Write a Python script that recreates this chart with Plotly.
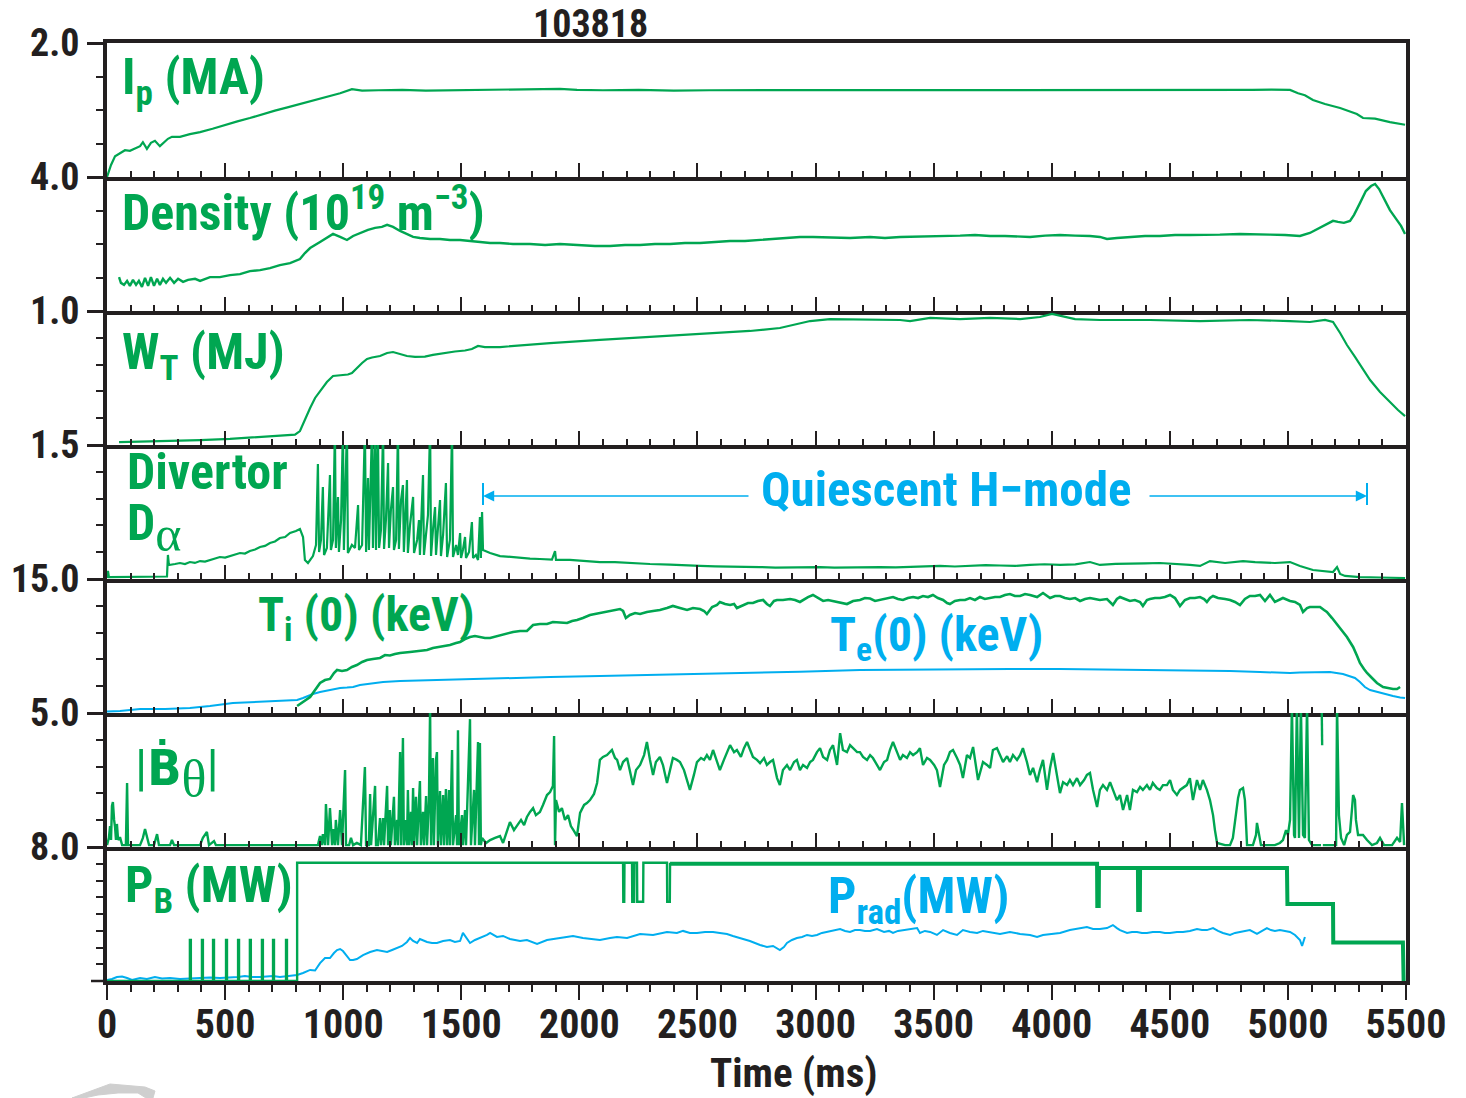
import plotly.graph_objects as go
from plotly.subplots import make_subplots

GREEN = "#00a651"
BLUE = "#00aeef"
INK = "#231f20"
FONT = "'Roboto Condensed', 'DejaVu Sans Condensed', sans-serif"

SHOT = "103818"
X_TITLE = "Time (ms)"

Y_MAX = [2.0, 4.0, 1.0, 1.5, 15.0, 5.0, 8.0]
Y_MINOR = [[0.5, 1.0, 1.5], [1, 2, 3], [0.2, 0.4, 0.6, 0.8], [0.3, 0.6, 0.9, 1.2],
           [3, 6, 9, 12], [1, 2, 3, 4], [1, 2, 3, 4, 5, 6, 7]]
Y_LABEL = ["2.0", "4.0", "1.0", "1.5", "15.0", "5.0", "8.0"]
X_TICKS = [0, 500, 1000, 1500, 2000, 2500, 3000, 3500, 4000, 4500, 5000, 5500]

IP = [(0, 0.00), (17, 0.18), (34, 0.31), (55, 0.36), (76, 0.40), (97, 0.39), (119, 0.43), (140, 0.46),
      (152, 0.52), (169, 0.42), (186, 0.51), (203, 0.54), (224, 0.46), (241, 0.52), (258, 0.57),
      (275, 0.60), (309, 0.60), (351, 0.64), (394, 0.67), (447, 0.72), (500, 0.78), (552, 0.83),
      (605, 0.88), (658, 0.94), (711, 0.99), (764, 1.04), (817, 1.09), (870, 1.14), (923, 1.19),
      (987, 1.25), (1037, 1.31), (1080, 1.29), (1150, 1.295), (1250, 1.30), (1350, 1.29), (1450, 1.295),
      (1550, 1.30), (1650, 1.295), (1750, 1.30), (1850, 1.305), (1918, 1.315), (1990, 1.30), (2100, 1.295),
      (2250, 1.30), (2400, 1.29), (2550, 1.295), (2700, 1.295), (2850, 1.29), (3000, 1.295), (3150, 1.29),
      (3300, 1.295), (3450, 1.29), (3600, 1.295), (3750, 1.29), (3900, 1.295), (4050, 1.29), (4200, 1.295),
      (4350, 1.29), (4500, 1.295), (4650, 1.30), (4750, 1.295), (4850, 1.30), (4930, 1.305), (5009, 1.30),
      (5043, 1.25), (5072, 1.22), (5106, 1.15), (5157, 1.09), (5221, 1.03), (5292, 0.94), (5318, 0.88),
      (5369, 0.87), (5432, 0.82), (5496, 0.78)]

NE = [(51, 1.01), (59, 0.84), (72, 0.78), (85, 0.90), (97, 0.75), (110, 0.93), (123, 0.78), (135, 0.90),
      (148, 0.72), (161, 0.99), (174, 0.75), (186, 1.01), (199, 0.75), (212, 0.96), (224, 0.78), (237, 0.96),
      (250, 0.84), (267, 0.99), (284, 0.84), (301, 0.96), (322, 0.87), (343, 0.93), (373, 0.96), (394, 0.90),
      (436, 1.01), (478, 1.01), (521, 1.07), (563, 1.10), (605, 1.19), (648, 1.22), (690, 1.28), (732, 1.37),
      (775, 1.43), (817, 1.55), (838, 1.73), (860, 1.88), (902, 2.06), (931, 2.18), (957, 2.30), (987, 2.21),
      (1016, 2.12), (1042, 2.24), (1071, 2.33), (1105, 2.42), (1135, 2.48), (1164, 2.51), (1186, 2.57),
      (1211, 2.51), (1241, 2.39), (1270, 2.30), (1296, 2.21), (1325, 2.18), (1368, 2.15), (1410, 2.15),
      (1452, 2.12), (1495, 2.12), (1537, 2.09), (1579, 2.06), (1622, 2.03), (1664, 2.03), (1719, 2.00),
      (1791, 2.00), (1855, 1.97), (1918, 2.00), (2003, 1.97), (2066, 1.94), (2130, 1.94), (2193, 1.97),
      (2257, 1.97), (2320, 2.00), (2384, 2.00), (2447, 2.03), (2511, 2.03), (2574, 2.06), (2638, 2.09),
      (2701, 2.09), (2765, 2.12), (2828, 2.15), (2892, 2.18), (2934, 2.21), (2989, 2.21), (3061, 2.19),
      (3146, 2.18), (3231, 2.21), (3294, 2.18), (3358, 2.21), (3442, 2.22), (3527, 2.24), (3612, 2.25),
      (3675, 2.27), (3739, 2.24), (3802, 2.24), (3866, 2.22), (3908, 2.21), (3972, 2.25), (4035, 2.27),
      (4099, 2.25), (4162, 2.24), (4204, 2.21), (4234, 2.15), (4276, 2.18), (4331, 2.21), (4395, 2.24),
      (4458, 2.24), (4522, 2.27), (4585, 2.27), (4649, 2.27), (4712, 2.28), (4797, 2.30), (4861, 2.30),
      (4924, 2.28), (4988, 2.27), (5051, 2.24), (5093, 2.33), (5127, 2.45), (5161, 2.57), (5191, 2.69),
      (5212, 2.66), (5237, 2.63), (5263, 2.69), (5280, 2.87), (5305, 3.22), (5330, 3.58), (5352, 3.73),
      (5369, 3.79), (5386, 3.64), (5411, 3.31), (5432, 3.01), (5458, 2.75), (5479, 2.54), (5496, 2.30)]

WT = [(51, 0.022), (182, 0.026), (309, 0.030), (394, 0.037), (521, 0.045), (648, 0.060), (732, 0.067),
      (796, 0.078), (817, 0.104), (838, 0.194), (860, 0.276), (881, 0.351), (902, 0.403), (931, 0.470),
      (957, 0.515), (987, 0.522), (1020, 0.526), (1037, 0.537), (1058, 0.575), (1080, 0.612), (1101, 0.642),
      (1122, 0.653), (1156, 0.664), (1186, 0.687), (1211, 0.694), (1241, 0.679), (1270, 0.664), (1304, 0.657),
      (1346, 0.660), (1380, 0.672), (1431, 0.687), (1473, 0.698), (1516, 0.705), (1545, 0.716), (1571, 0.739),
      (1600, 0.731), (1664, 0.731), (1876, 0.761), (2087, 0.784), (2299, 0.806), (2511, 0.828), (2722, 0.851),
      (2849, 0.873), (2977, 0.925), (3061, 0.940), (3231, 0.933), (3358, 0.933), (3400, 0.925), (3485, 0.948),
      (3612, 0.940), (3739, 0.948), (3866, 0.940), (3950, 0.955), (4001, 0.978), (4035, 0.963), (4099, 0.940),
      (4204, 0.933), (4416, 0.933), (4628, 0.925), (4839, 0.933), (5009, 0.925), (5093, 0.918), (5157, 0.933),
      (5191, 0.918), (5221, 0.836), (5250, 0.746), (5284, 0.657), (5314, 0.575), (5348, 0.485), (5390, 0.396),
      (5432, 0.321), (5466, 0.261), (5496, 0.216)]

DA = [(0, 0.011), (4, 0.090), (8, 0.022), (97, 0.022), (254, 0.028), (258, 0.269), (262, 0.157), (288, 0.168),
      (309, 0.179), (330, 0.168), (351, 0.190), (372, 0.180), (394, 0.201), (415, 0.195), (436, 0.213),
      (457, 0.225), (478, 0.246), (500, 0.240), (521, 0.257), (542, 0.270), (563, 0.291), (584, 0.285),
      (605, 0.313), (627, 0.330), (648, 0.358), (669, 0.370), (690, 0.403), (711, 0.420), (732, 0.459),
      (754, 0.470), (775, 0.515), (800, 0.537), (817, 0.560), (830, 0.470), (838, 0.213), (851, 0.179),
      (872, 0.257), (885, 0.381), (893, 1.287), (898, 0.302), (906, 0.437), (914, 1.030), (919, 0.269),
      (931, 0.347), (944, 1.164), (948, 0.325), (957, 0.437), (965, 1.7), (969, 0.347), (978, 0.918),
      (982, 0.302), (991, 0.660), (999, 1.7), (1003, 0.325), (1016, 1.7), (1020, 0.291), (1037, 0.381),
      (1050, 0.347), (1063, 0.828), (1067, 0.325), (1080, 0.381), (1092, 1.7), (1097, 0.302), (1105, 1.131),
      (1109, 0.325), (1122, 1.7), (1126, 0.347), (1135, 1.7), (1139, 0.325), (1147, 1.7), (1152, 0.347),
      (1160, 0.548), (1169, 1.7), (1173, 0.336), (1181, 0.660), (1190, 1.298), (1194, 0.347), (1202, 0.772),
      (1211, 1.030), (1215, 0.325), (1224, 0.437), (1232, 1.7), (1236, 0.336), (1245, 0.884), (1253, 1.052),
      (1257, 0.302), (1270, 1.108), (1274, 0.291), (1283, 0.604), (1296, 0.918), (1300, 0.291), (1313, 0.437),
      (1321, 0.660), (1325, 0.269), (1338, 1.164), (1342, 0.269), (1351, 0.548), (1359, 0.716), (1368, 1.7),
      (1372, 0.257), (1380, 0.548), (1389, 0.806), (1393, 0.269), (1401, 0.604), (1410, 0.884), (1414, 0.257),
      (1423, 0.493), (1435, 1.075), (1440, 0.246), (1452, 0.437), (1461, 1.7), (1465, 0.246), (1478, 0.381),
      (1486, 0.269), (1495, 0.515), (1499, 0.235), (1507, 0.325), (1516, 0.470), (1520, 0.235), (1533, 0.302),
      (1545, 0.638), (1550, 0.235), (1562, 0.269), (1571, 0.213), (1579, 0.694), (1583, 0.235), (1588, 0.750),
      (1592, 0.325), (1622, 0.291), (1664, 0.257), (1706, 0.246), (1749, 0.235), (1791, 0.229), (1833, 0.224),
      (1884, 0.218), (1897, 0.313), (1901, 0.213), (1960, 0.213), (2024, 0.201), (2087, 0.190), (2151, 0.190),
      (2214, 0.179), (2299, 0.168), (2384, 0.162), (2450, 0.150), (2511, 0.146), (2575, 0.141), (2638, 0.140),
      (2700, 0.135), (2765, 0.134), (2830, 0.128), (2892, 0.129), (2950, 0.136), (3019, 0.134), (3080, 0.127),
      (3146, 0.129), (3210, 0.137), (3273, 0.134), (3340, 0.130), (3400, 0.134), (3460, 0.143), (3527, 0.146),
      (3590, 0.140), (3654, 0.146), (3720, 0.155), (3781, 0.151), (3845, 0.146), (3908, 0.157), (3970, 0.165),
      (4035, 0.157), (4100, 0.163), (4162, 0.190), (4204, 0.157), (4270, 0.170), (4331, 0.168), (4395, 0.174),
      (4458, 0.179), (4520, 0.170), (4585, 0.157), (4628, 0.146), (4670, 0.201), (4734, 0.179), (4770, 0.192),
      (4810, 0.201), (4861, 0.190), (4900, 0.184), (4945, 0.179), (5009, 0.190), (5051, 0.146), (5106, 0.101),
      (5157, 0.090), (5191, 0.078), (5208, 0.134), (5221, 0.056), (5242, 0.034), (5305, 0.022), (5390, 0.017),
      (5496, 0.011)]

TI = [(805, 0.78), (830, 1.23), (860, 1.79), (881, 2.57), (902, 3.36), (923, 3.69), (944, 3.81), (961, 4.48),
      (974, 4.81), (995, 4.70), (1016, 4.81), (1037, 5.15), (1058, 5.37), (1080, 5.71), (1101, 5.93),
      (1126, 6.04), (1156, 6.16), (1177, 6.49), (1198, 6.44), (1219, 6.60), (1241, 6.72), (1283, 6.83),
      (1325, 6.94), (1355, 7.05), (1380, 7.28), (1410, 7.39), (1452, 7.61), (1478, 7.84), (1495, 7.95),
      (1516, 8.28), (1537, 8.51), (1558, 8.62), (1579, 8.51), (1600, 8.40), (1622, 8.40), (1651, 8.62),
      (1685, 8.84), (1719, 9.07), (1749, 9.18), (1778, 9.18), (1804, 9.85), (1833, 9.96), (1863, 9.96),
      (1888, 10.19), (1918, 10.13), (1948, 10.07), (1969, 10.30), (1990, 10.41), (2015, 10.63), (2045, 10.97),
      (2066, 11.08), (2087, 11.19), (2117, 11.31), (2143, 11.42), (2172, 11.64), (2185, 11.42), (2197, 10.63),
      (2214, 10.97), (2236, 11.19), (2257, 11.08), (2286, 11.31), (2312, 11.42), (2341, 11.53), (2371, 11.75),
      (2396, 11.98), (2426, 11.75), (2456, 11.53), (2481, 11.75), (2511, 11.64), (2528, 11.42), (2540, 11.08),
      (2562, 11.87), (2583, 12.09), (2595, 12.43), (2617, 12.20), (2638, 12.09), (2655, 12.20), (2667, 11.75),
      (2693, 12.09), (2714, 12.31), (2735, 12.31), (2756, 12.54), (2778, 12.65), (2794, 12.20), (2807, 11.98),
      (2824, 12.54), (2837, 12.65), (2862, 12.65), (2892, 12.76), (2913, 12.65), (2934, 12.43), (2955, 12.76),
      (2968, 12.98), (2989, 13.21), (3010, 12.87), (3032, 12.54), (3053, 12.65), (3074, 12.54), (3104, 12.43),
      (3133, 12.20), (3159, 12.54), (3188, 12.65), (3209, 12.87), (3231, 12.81), (3252, 12.54), (3273, 12.65),
      (3303, 12.87), (3328, 12.98), (3349, 12.76), (3370, 12.65), (3391, 12.87), (3413, 12.98), (3434, 12.87),
      (3455, 13.09), (3476, 12.98), (3497, 13.21), (3518, 12.87), (3540, 12.65), (3557, 12.31), (3569, 12.20),
      (3590, 12.54), (3612, 12.65), (3633, 12.65), (3654, 12.87), (3675, 12.65), (3696, 12.98), (3717, 12.76),
      (3739, 12.87), (3760, 12.98), (3781, 12.98), (3802, 13.21), (3823, 13.32), (3844, 13.10), (3866, 13.10),
      (3887, 13.32), (3908, 13.21), (3938, 12.98), (3963, 13.43), (3993, 12.87), (4014, 13.10), (4035, 13.10),
      (4056, 12.87), (4077, 12.76), (4099, 12.87), (4120, 12.54), (4141, 12.76), (4162, 12.87), (4183, 12.76),
      (4204, 12.65), (4234, 12.76), (4259, 12.09), (4276, 12.76), (4289, 12.98), (4310, 12.76), (4331, 12.54),
      (4352, 12.65), (4374, 12.43), (4386, 11.98), (4403, 12.65), (4416, 12.76), (4437, 12.87), (4458, 12.87),
      (4479, 12.98), (4501, 13.21), (4522, 12.87), (4543, 11.98), (4564, 12.65), (4585, 12.87), (4606, 12.87),
      (4628, 12.98), (4645, 12.76), (4657, 12.43), (4670, 12.87), (4683, 13.10), (4704, 12.87), (4734, 12.76),
      (4755, 12.65), (4776, 12.43), (4797, 12.09), (4818, 12.76), (4839, 13.10), (4861, 13.10), (4882, 13.21),
      (4903, 12.54), (4924, 13.21), (4945, 12.43), (4966, 12.76), (4979, 12.87), (5009, 12.54), (5030, 12.43),
      (5051, 12.09), (5064, 11.31), (5081, 11.75), (5093, 11.87), (5115, 11.87), (5136, 11.87), (5153, 11.53),
      (5165, 11.31), (5187, 10.63), (5208, 9.96), (5229, 9.18), (5250, 8.51), (5263, 7.95), (5276, 7.39),
      (5293, 6.38), (5305, 5.60), (5322, 4.93), (5335, 4.48), (5356, 3.92), (5377, 3.36), (5403, 2.91),
      (5424, 2.80), (5445, 2.69), (5462, 2.69), (5475, 2.91)]

TE = [(0, 0.17), (55, 0.22), (140, 0.45), (246, 0.45), (351, 0.56), (436, 0.78), (533, 1.12), (605, 1.23),
      (677, 1.34), (754, 1.40), (805, 1.46), (830, 1.68), (851, 1.90), (872, 2.13), (902, 2.35), (944, 2.57),
      (987, 2.80), (1016, 2.85), (1042, 2.91), (1071, 3.13), (1101, 3.25), (1135, 3.36), (1169, 3.47),
      (1241, 3.58), (1380, 3.69), (1524, 3.81), (1664, 3.92), (1876, 4.03), (2087, 4.14), (2299, 4.25),
      (2511, 4.42), (2722, 4.53), (2934, 4.62), (3188, 4.81), (3400, 4.87), (3612, 4.93), (3823, 4.93),
      (4035, 4.93), (4247, 4.87), (4458, 4.81), (4628, 4.81), (4755, 4.70), (4882, 4.59), (5009, 4.48),
      (5051, 4.53), (5178, 4.59), (5233, 4.37), (5263, 4.14), (5284, 3.92), (5305, 3.47), (5326, 2.91),
      (5348, 2.57), (5377, 2.35), (5411, 2.13), (5445, 1.90), (5475, 1.74), (5496, 1.68)]

BD = [(0, 0.07), (8, 0.34), (13, 0.78), (17, 0.26), (21, 1.53), (25, 1.68), (30, 1.01), (34, 0.75), (38, 0.26),
      (42, 0.86), (47, 0.26), (55, 0.37), (64, 0.07), (80, 0.07), (85, 2.39), (89, 0.07), (140, 0.07),
      (152, 0.34), (161, 0.67), (169, 0.34), (178, 0.07), (199, 0.07), (212, 0.48), (220, 0.07), (267, 0.07),
      (275, 0.26), (284, 0.07), (394, 0.07), (406, 0.34), (423, 0.56), (432, 0.07), (453, 0.22), (461, 0.07),
      (893, 0.07), (902, 0.41), (910, 0.07), (914, 0.48), (923, 0.07), (927, 1.60), (936, 0.07), (944, 1.45),
      (953, 0.07), (957, 0.67), (965, 0.07), (969, 1.01), (978, 0.07), (987, 1.38), (995, 0.07), (1008, 2.87),
      (1012, 0.07), (1025, 0.07), (1033, 0.34), (1042, 0.07), (1058, 0.15), (1075, 0.07), (1092, 2.98),
      (1097, 0.07), (1109, 0.07), (1114, 1.98), (1118, 0.07), (1135, 2.28), (1139, 0.07), (1147, 0.07),
      (1156, 1.08), (1160, 0.07), (1169, 1.08), (1173, 0.07), (1186, 2.28), (1190, 0.07), (1198, 1.38),
      (1202, 0.07), (1215, 1.87), (1219, 0.07), (1228, 1.01), (1232, 0.07), (1241, 3.54), (1245, 0.07),
      (1253, 4.07), (1257, 0.07), (1266, 1.01), (1270, 0.07), (1274, 2.13), (1279, 0.07), (1287, 1.31),
      (1291, 0.07), (1296, 2.20), (1300, 0.07), (1308, 1.87), (1313, 0.07), (1321, 1.75), (1325, 2.46),
      (1329, 0.07), (1338, 1.31), (1342, 0.07), (1351, 1.90), (1355, 0.07), (1363, 1.75), (1368, 5.2),
      (1372, 0.07), (1380, 3.32), (1384, 0.07), (1393, 3.25), (1397, 3.54), (1401, 0.07), (1410, 2.09),
      (1414, 0.07), (1423, 1.94), (1427, 0.07), (1435, 2.16), (1440, 0.07), (1448, 2.13), (1452, 0.07),
      (1461, 3.62), (1465, 0.07), (1478, 1.19), (1482, 0.07), (1486, 4.36), (1490, 0.07), (1503, 1.19),
      (1507, 0.07), (1516, 1.38), (1520, 0.07), (1537, 4.77), (1541, 0.07), (1554, 2.13), (1558, 0.07),
      (1571, 3.92), (1575, 0.07), (1579, 3.88), (1583, 0.07), (1588, 0.34), (1605, 0.15), (1622, 0.26),
      (1643, 0.34), (1664, 0.41), (1677, 0.15), (1694, 0.63), (1706, 0.93), (1723, 0.63), (1736, 0.78),
      (1753, 1.01), (1766, 0.82), (1778, 1.12), (1791, 1.31), (1804, 1.45), (1816, 1.19), (1833, 1.31),
      (1846, 1.57), (1863, 1.94), (1876, 2.05), (1888, 2.28), (1893, 4.14), (1897, 0.07), (1901, 1.75),
      (1914, 1.31), (1926, 1.45), (1939, 1.01), (1952, 1.19), (1964, 0.78), (1977, 0.60), (1990, 0.41),
      (2003, 1.27), (2020, 1.57), (2032, 1.64), (2045, 1.75), (2062, 1.98), (2075, 2.39), (2087, 3.25),
      (2100, 3.36), (2117, 3.43), (2130, 3.54), (2138, 3.62), (2151, 3.32), (2160, 3.25), (2172, 2.87),
      (2185, 3.17), (2202, 3.32), (2214, 2.87), (2227, 2.31), (2240, 2.87), (2257, 3.06), (2274, 3.43),
      (2286, 3.92), (2299, 3.25), (2312, 2.69), (2324, 3.17), (2341, 3.36), (2354, 3.06), (2371, 2.39),
      (2384, 2.87), (2396, 3.32), (2413, 3.25), (2426, 3.17), (2443, 2.87), (2456, 2.50), (2468, 2.13),
      (2485, 2.69), (2498, 3.17), (2515, 3.32), (2528, 3.25), (2540, 3.43), (2553, 3.25), (2566, 3.62),
      (2583, 3.17), (2595, 2.87), (2612, 3.25), (2625, 3.54), (2638, 3.80), (2655, 3.54), (2667, 3.62),
      (2684, 3.36), (2697, 3.69), (2710, 3.92), (2722, 3.62), (2735, 3.36), (2752, 3.25), (2765, 3.13),
      (2782, 3.32), (2794, 3.06), (2807, 3.17), (2820, 3.25), (2837, 2.57), (2849, 2.31), (2862, 2.87),
      (2879, 3.06), (2892, 2.87), (2909, 3.17), (2921, 3.25), (2934, 2.87), (2947, 3.06), (2964, 2.95),
      (2977, 3.17), (2989, 3.25), (3006, 3.54), (3019, 3.69), (3032, 3.36), (3049, 3.25), (3061, 3.62),
      (3074, 3.80), (3091, 3.06), (3104, 4.25), (3116, 3.62), (3133, 3.54), (3146, 3.80), (3159, 3.69),
      (3176, 3.54), (3188, 3.54), (3201, 3.36), (3218, 3.25), (3231, 3.43), (3243, 3.32), (3260, 3.06),
      (3273, 2.87), (3290, 3.17), (3303, 3.25), (3315, 3.62), (3328, 3.92), (3345, 3.54), (3358, 3.25),
      (3370, 3.43), (3387, 3.32), (3400, 3.54), (3413, 3.43), (3430, 3.54), (3442, 3.69), (3455, 3.06),
      (3472, 3.32), (3485, 3.25), (3502, 3.06), (3514, 2.87), (3527, 2.24), (3544, 3.06), (3557, 3.25),
      (3569, 3.54), (3582, 3.62), (3599, 3.32), (3612, 3.06), (3624, 2.57), (3641, 3.43), (3654, 3.32),
      (3667, 3.73), (3688, 2.50), (3709, 3.17), (3726, 3.06), (3739, 2.95), (3751, 3.62), (3768, 3.69),
      (3781, 3.43), (3794, 3.17), (3811, 3.39), (3823, 3.17), (3836, 3.43), (3853, 3.25), (3866, 3.43),
      (3878, 3.69), (3895, 3.17), (3908, 2.69), (3921, 2.95), (3938, 2.42), (3950, 2.87), (3963, 3.25),
      (3980, 2.13), (3993, 2.95), (4006, 3.51), (4022, 2.69), (4035, 2.01), (4048, 2.42), (4065, 2.31),
      (4077, 2.50), (4090, 2.31), (4107, 2.57), (4120, 2.31), (4137, 2.50), (4149, 2.69), (4162, 2.76),
      (4175, 2.13), (4192, 1.49), (4204, 2.13), (4217, 2.31), (4234, 2.13), (4247, 2.42), (4259, 2.13),
      (4276, 1.75), (4289, 1.94), (4302, 1.38), (4319, 1.94), (4331, 1.38), (4344, 2.13), (4361, 2.05),
      (4374, 2.24), (4386, 2.13), (4403, 2.31), (4416, 2.13), (4428, 2.39), (4445, 2.20), (4458, 2.13),
      (4471, 2.31), (4488, 2.31), (4501, 2.50), (4513, 2.13), (4530, 1.94), (4543, 2.13), (4556, 2.20),
      (4572, 2.31), (4585, 2.57), (4598, 1.75), (4615, 2.50), (4628, 2.13), (4640, 2.50), (4657, 2.13),
      (4670, 1.75), (4683, 1.19), (4691, 0.63), (4700, 0.15), (4734, 0.07), (4755, 0.07), (4767, 0.34),
      (4780, 1.19), (4789, 1.83), (4797, 2.13), (4810, 2.20), (4818, 1.75), (4827, 0.07), (4852, 0.07),
      (4865, 0.45), (4869, 0.90), (4878, 0.45), (4886, 0.07), (4945, 0.07), (4966, 0.15), (4979, 0.26),
      (4992, 0.63), (5000, 0.45), (5009, 1.01), (5017, 5.3), (5026, 0.45), (5030, 0.34), (5038, 5.3),
      (5047, 0.34), (5055, 5.3), (5064, 0.45), (5072, 0.34), (5081, 5.3), (5089, 0.26), (5102, 0.07),
      (5140, 0.07), (5141, None), (5143, 5.3), (5145, 3.80), (5146, None), (5148, 0.07), (5204, 0.07),
      (5208, 5.3), (5212, 2.13), (5216, 1.19), (5225, 0.34), (5238, 0.07), (5250, 0.45), (5263, 0.56),
      (5271, 1.38), (5276, 1.94), (5284, 1.75), (5288, 1.01), (5297, 0.45), (5318, 0.45), (5335, 0.26),
      (5356, 0.07), (5377, 0.15), (5390, 0.34), (5407, 0.07), (5441, 0.07), (5462, 0.34), (5475, 0.19),
      (5483, 1.64), (5487, 0.63), (5492, 0.07)]

PB = [(0, 0), (351, 0), (351, 2.45), (355, 2.45), (355, 0), (402, 0), (402, 2.45), (406, 2.45), (406, 0),
      (449, 0), (449, 2.45), (453, 2.45), (453, 0), (504, 0), (504, 2.45), (508, 2.45), (508, 0), (555, 0),
      (555, 2.45), (559, 2.45), (559, 0), (605, 0), (605, 2.45), (609, 2.45), (609, 0), (656, 0), (656, 2.45),
      (660, 2.45), (660, 0), (703, 0), (703, 2.45), (707, 2.45), (707, 0), (758, 0), (758, 2.45), (762, 2.45),
      (762, 0), (805, 0), (805, 7.06), (2185, 7.06), (2186, 4.73), (2190, 4.73), (2191, 7.06), (2223, 7.06),
      (2224, 4.73), (2232, 4.73), (2233, 7.06), (2244, 7.06), (2245, 4.73), (2270, 4.73), (2271, 7.06),
      (2371, 7.06), (2372, 4.73), (2383, 4.73), (2384, 7.06)]
PB_MOD = [(2384, 7.0), (4192, 7.0), (4193, 4.48), (4199, 4.48), (4200, 6.75), (4365, 6.75), (4366, 4.24),
          (4373, 4.24), (4374, 6.75), (4996, 6.75), (4998, 4.6), (5191, 4.6), (5192, 2.3), (5487, 2.3),
          (5490, 0.0)]

PRAD = [(0, 0.06), (21, 0.12), (42, 0.24), (64, 0.27), (85, 0.18), (106, 0.06), (140, 0.18), (169, 0.12),
        (203, 0.24), (233, 0.15), (267, 0.18), (309, 0.12), (351, 0.15), (394, 0.18), (436, 0.21), (478, 0.18),
        (521, 0.21), (555, 0.24), (584, 0.30), (614, 0.24), (648, 0.24), (677, 0.27), (703, 0.30), (732, 0.24),
        (762, 0.30), (783, 0.33), (805, 0.36), (830, 0.48), (860, 0.66), (881, 0.63), (902, 1.07), (923, 1.37),
        (944, 1.37), (961, 1.67), (974, 1.85), (987, 1.91), (999, 1.79), (1016, 1.49), (1029, 1.25),
        (1042, 1.25), (1058, 1.31), (1084, 1.55), (1114, 1.73), (1143, 1.85), (1169, 1.79), (1186, 1.73),
        (1207, 1.85), (1228, 1.97), (1249, 2.09), (1270, 2.33), (1283, 2.57), (1296, 2.39), (1313, 2.27),
        (1325, 2.51), (1342, 2.39), (1355, 2.33), (1376, 2.27), (1397, 2.27), (1423, 2.39), (1452, 2.45),
        (1473, 2.33), (1495, 2.39), (1507, 2.87), (1520, 2.63), (1537, 2.27), (1558, 2.45), (1579, 2.57),
        (1609, 2.75), (1622, 2.87), (1651, 2.63), (1677, 2.69), (1706, 2.51), (1749, 2.39), (1778, 2.45),
        (1821, 2.21), (1863, 2.45), (1918, 2.57), (1973, 2.69), (2015, 2.57), (2087, 2.45), (2130, 2.57),
        (2159, 2.63), (2202, 2.57), (2257, 2.81), (2312, 2.75), (2371, 2.93), (2413, 2.87), (2439, 2.99),
        (2468, 2.87), (2498, 2.87), (2532, 2.93), (2566, 2.93), (2595, 2.87), (2625, 2.81), (2650, 2.69),
        (2680, 2.57), (2722, 2.39), (2765, 2.15), (2794, 2.03), (2820, 2.09), (2849, 1.85), (2866, 2.03),
        (2879, 2.27), (2900, 2.45), (2921, 2.57), (2943, 2.63), (2964, 2.75), (2985, 2.69), (3006, 2.75),
        (3027, 2.87), (3049, 2.93), (3074, 2.99), (3104, 3.10), (3125, 2.99), (3146, 2.93), (3167, 3.04),
        (3188, 3.04), (3209, 2.99), (3231, 2.99), (3260, 3.10), (3290, 2.93), (3311, 2.99), (3328, 2.87),
        (3349, 2.99), (3370, 3.04), (3400, 3.10), (3430, 3.16), (3442, 2.87), (3463, 2.99), (3485, 2.93),
        (3514, 2.75), (3540, 3.04), (3569, 2.87), (3599, 2.75), (3624, 3.04), (3654, 2.93), (3684, 2.87),
        (3709, 2.99), (3739, 2.93), (3781, 2.81), (3823, 2.93), (3866, 2.81), (3908, 2.75), (3938, 2.63),
        (3963, 2.75), (3993, 2.81), (4035, 2.87), (4077, 3.04), (4107, 3.10), (4132, 3.16), (4149, 3.22),
        (4175, 3.10), (4204, 3.10), (4234, 3.16), (4259, 3.34), (4276, 3.16), (4289, 3.04), (4319, 2.87),
        (4340, 2.93), (4361, 2.93), (4382, 2.87), (4403, 2.87), (4428, 2.93), (4458, 2.93), (4479, 2.87),
        (4501, 2.87), (4530, 2.93), (4556, 2.93), (4585, 2.99), (4615, 3.10), (4636, 3.04), (4657, 3.04),
        (4683, 3.16), (4704, 2.99), (4725, 2.87), (4755, 2.75), (4776, 2.87), (4797, 2.93), (4818, 2.99),
        (4839, 3.04), (4869, 2.81), (4894, 2.99), (4911, 3.16), (4928, 3.04), (4945, 2.99), (4966, 3.04),
        (4988, 2.99), (5009, 2.93), (5030, 2.75), (5043, 2.57), (5051, 2.45), (5060, 2.09), (5068, 2.39),
        (5072, 2.63)]


def cols(pairs):
    return [p[0] for p in pairs], [p[1] for p in pairs]


fig = make_subplots(rows=7, cols=1, vertical_spacing=0)

series = [
    (IP, GREEN, 2.2, 1), (NE, GREEN, 2.4, 2), (WT, GREEN, 2.2, 3), (DA, GREEN, 2.2, 4),
    (TE, BLUE, 2.0, 5), (TI, GREEN, 2.6, 5), (BD, GREEN, 2.4, 6),
    (PRAD, BLUE, 2.0, 7), (PB, GREEN, 2.4, 7), (PB_MOD, GREEN, 4.0, 7),
]
for data, color, width, row in series:
    t, v = cols(data)
    fig.add_trace(go.Scatter(x=t, y=v, mode="lines", line=dict(color=color, width=width),
                             connectgaps=False, showlegend=False, hoverinfo="skip"), row=row, col=1)

for i in range(7):
    r = i + 1
    last = (r == 7)
    fig.update_yaxes(row=r, col=1, range=[0, Y_MAX[i]], tickmode="array", tickvals=[Y_MAX[i]],
                     ticktext=[Y_LABEL[i]], ticks="outside", ticklen=16, tickwidth=2.5, tickcolor=INK,
                     showline=True, linewidth=4, linecolor=INK, mirror=True, showgrid=False, zeroline=False,
                     automargin=False,
                     tickfont=dict(family=FONT, size=38, color=INK, weight="bold"),
                     minor=dict(tickmode="array", tickvals=Y_MINOR[i], ticks="outside", ticklen=7,
                                tickwidth=2, tickcolor=INK, showgrid=False),
                     fixedrange=True)
    fig.update_xaxes(row=r, col=1, range=[0, 5500], tickmode="array", tickvals=X_TICKS,
                     ticktext=[str(v) for v in X_TICKS], showticklabels=last,
                     ticks="outside" if last else "inside", ticklen=15 if last else 14, tickwidth=2,
                     tickcolor=INK, showline=True, linewidth=4, linecolor=INK, mirror=(r == 1),
                     showgrid=False, zeroline=False, automargin=False, ticklabelstandoff=-10,
                     tickfont=dict(family=FONT, size=40, color=INK, weight="bold"),
                     minor=dict(dtick=100, tick0=0, ticks="outside" if last else "inside", ticklen=7 if last else 6,
                                tickwidth=1.5, tickcolor=INK, showgrid=False),
                     fixedrange=True)

L, R, T, B = 107, 60, 43, 117
W, H = 1466, 1098
PW, PH = W - L - R, H - T - B


def fx(px):
    return (px - L) / PW


def fy(py):
    return (H - B - py) / PH


# long tick at the bottom of the lowest panel
fig.add_shape(type="line", xref="paper", yref="paper", x0=fx(91), x1=fx(107), y0=0, y1=0,
              line=dict(color=INK, width=2.5))

# faint grey swoosh (logo fragment) at the bottom-left corner
swoosh = [(72, 1098), (110, 1084), (145, 1087), (155, 1091), (153, 1098), (146, 1098), (138, 1093),
          (118, 1093), (98, 1095), (84, 1098)]
path = "M " + " L ".join("{:.5f},{:.5f}".format(fx(a), fy(b)) for a, b in swoosh) + " Z"
fig.add_shape(type="path", xref="paper", yref="paper", path=path, fillcolor="#cfcfcf",
              line=dict(color="#cfcfcf", width=1), layer="below")


def label(text, x, y, color, size=50, xanchor="left"):
    fig.add_annotation(text=text, x=fx(x), y=fy(y), xref="paper", yref="paper", xanchor=xanchor,
                       yanchor="middle", showarrow=False,
                       font=dict(family=FONT, size=size, color=color, weight="bold"))


alpha = "<span style=\"font-family:'Liberation Serif', serif;font-weight:normal;font-size:50px\">α</span>"
theta = "<span style=\"font-family:'Liberation Serif', serif;font-weight:normal;font-size:52px\">θ</span>"
bar = "<span style='font-weight:normal'>|</span>"

label(SHOT, 590, 24, INK, size=38, xanchor="center")
label("I<sub>p</sub> (MA)", 120, 81, GREEN)
label("Density (10<sup>19</sup> m<sup>−3</sup>)", 120, 209, GREEN)
label("W<sub>T</sub> (MJ)", 120, 356, GREEN)
label("Divertor", 125, 472, GREEN)
label("D<sub>" + alpha + "</sub>", 125, 528, GREEN)
label("T<sub>i</sub> (0) (keV)", 256, 617, GREEN, size=48)
label("T<sub>e</sub>(0) (keV)", 828, 637, BLUE, size=48)
label(bar + "Ḃ<sub>" + theta + "</sub>" + bar, 133, 772, GREEN)
label("P<sub>B</sub> (MW)", 123, 889, GREEN)
label("P<sub>rad</sub>(MW)", 826, 900, BLUE)
label("Quiescent H−mode", 946, 490, BLUE, size=49, xanchor="center")
label(X_TITLE, 794, 1073, INK, size=41, xanchor="center")

for head, tail in [(483, 750), (1367, 1148)]:
    fig.add_annotation(x=fx(head), y=fy(496), xref="paper", yref="paper", ax=tail - head, ay=0,
                       axref="pixel", ayref="pixel", text="", showarrow=True, arrowhead=2,
                       arrowsize=1.4, arrowwidth=1.6, arrowcolor=BLUE)
    fig.add_shape(type="line", xref="paper", yref="paper", x0=fx(head), x1=fx(head), y0=fy(483), y1=fy(505),
                  line=dict(color=BLUE, width=2))

fig.update_layout(width=W, height=H, margin=dict(l=L, r=R, t=T, b=B), paper_bgcolor="white",
                  plot_bgcolor="white", showlegend=False, font=dict(family=FONT, color=INK))

fig.write_html("out.html")
